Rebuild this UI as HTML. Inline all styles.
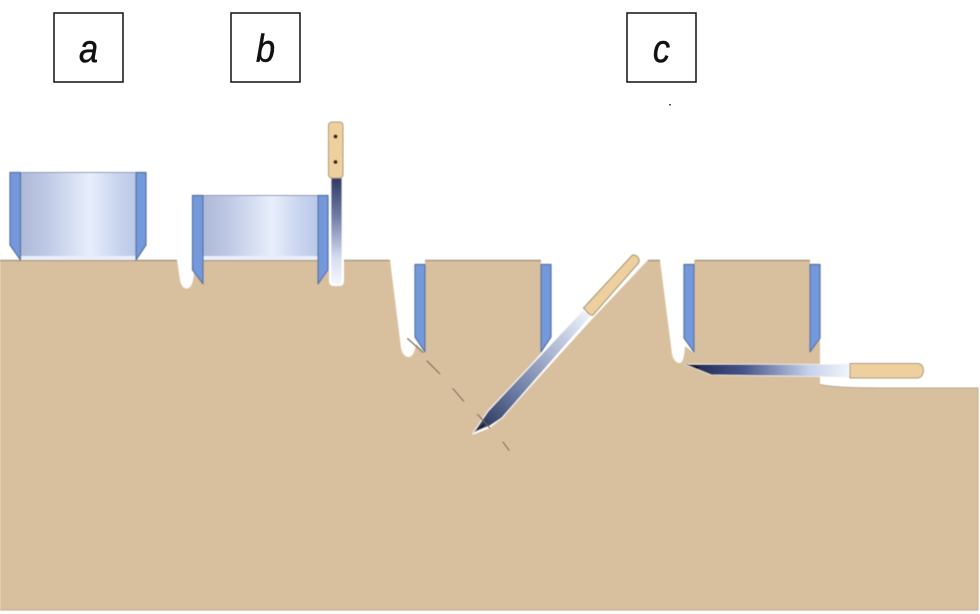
<!DOCTYPE html>
<html>
<head>
<meta charset="utf-8">
<style>
html,body{margin:0;padding:0;background:#fff;width:980px;height:614px;overflow:hidden}
svg{display:block}
</style>
</head>
<body>
<svg width="980" height="614" viewBox="0 0 980 614" xmlns="http://www.w3.org/2000/svg">
<defs>
<linearGradient id="ring" x1="0" x2="1" y1="0" y2="0">
<stop offset="0" stop-color="#aeb9d8"/><stop offset=".2" stop-color="#bcc7e3"/><stop offset=".6" stop-color="#e8eefc"/><stop offset=".85" stop-color="#c8d4ee"/><stop offset="1" stop-color="#bac8e7"/>
</linearGradient>
<linearGradient id="k1" gradientUnits="userSpaceOnUse" x1="336" y1="178" x2="336" y2="285">
<stop offset="0" stop-color="#2f3a66"/><stop offset=".35" stop-color="#6d7aa6"/><stop offset=".75" stop-color="#d5def0"/><stop offset="1" stop-color="#f6f8fd"/>
</linearGradient>
<linearGradient id="k2" gradientUnits="userSpaceOnUse" x1="478" y1="428" x2="588" y2="312">
<stop offset="0" stop-color="#2a3358"/><stop offset=".3" stop-color="#66769f"/><stop offset=".65" stop-color="#aab5cf"/><stop offset="1" stop-color="#eef2fb"/>
</linearGradient>
<linearGradient id="k3" gradientUnits="userSpaceOnUse" x1="686" y1="370" x2="850" y2="370">
<stop offset="0" stop-color="#1c2448"/><stop offset=".35" stop-color="#46548a"/><stop offset=".75" stop-color="#c5d2ea"/><stop offset="1" stop-color="#f2f5fc"/>
</linearGradient>
<filter id="b" x="-2%" y="-2%" width="104%" height="104%"><feGaussianBlur stdDeviation="0.45"/></filter>
</defs>
<rect width="980" height="614" fill="#fff"/>
<g filter="url(#b)">
<!-- soil -->
<path fill="#d8c09f" d="M0 260H177L180 280Q182 289 187 288.500Q193 288 194 273L203 285V260H318V285L329 270V281Q329 286 334 286H339Q344 286 344 281V260H390L401 348Q403 357 409 357Q414 357 416 344L425 353V260H541V353L478 427L472 435L490 428L502 418L594 317L648 260H660L672 354Q674 363 680 363Q684 363 685 346L694 353V260H810V353L820 338V384.500Q835 388 880 388H978V610H0Z"/>
<path fill="none" stroke="#a59680" stroke-width="1.500" d="M0 260.500H177M203 260.500H318M344 260.500H390M425 260.500H541M648 260.500H660M695 260.500H810"/>
<path fill="none" stroke="#b8a88e" stroke-width="1" d="M820 384.500Q835 388 880 388H978V610H0"/>
<!-- rings -->
<rect x="21" y="172" width="115" height="88" fill="url(#ring)"/>
<rect x="203" y="195" width="115" height="65" fill="url(#ring)"/>
<path fill="#e9eefa" d="M21 256H136V260H21Z"/>
<path fill="#e9eefa" d="M203 256H318V260H203Z"/>
<path fill="none" stroke="#8f97b0" stroke-width="1" d="M21 172.500H136M203 195.500H318"/>
<!-- blades -->
<g fill="#7398dc" stroke="#56719f" stroke-width="1.200" stroke-linejoin="round">
<path d="M10 172.500H20.500V260L10 245Z"/>
<path d="M146 172.500H136V260L146 245Z"/>
<path d="M192.500 195.500H203V284L192.500 270Z"/>
<path d="M328 195.500H318V284L328 270Z"/>
<path d="M415 264.500H425V352L415 337Z"/>
<path d="M551 264.500H541V352L551 337Z"/>
<path d="M684 264.500H694V352L684 338Z"/>
<path d="M820 264.500H810V352L820 338Z"/>
</g>
<!-- knife 1 -->
<path d="M331 178H342V282Q342 285 337 285Q331 285 331 282Z" fill="url(#k1)" stroke="#fff" stroke-width="0.600"/>
<rect x="328.500" y="122" width="14.500" height="56" rx="3.500" fill="#eed09f" stroke="#a8987c" stroke-width="1"/>
<circle cx="335.500" cy="136.500" r="2" fill="#2e2312"/>
<circle cx="335.500" cy="162" r="2" fill="#2e2312"/>
<!-- knife 2 -->
<path d="M583 310L591 316L502 418L490 426L473 433L488 411Z" fill="url(#k2)" stroke="#fff" stroke-width="1" stroke-linejoin="round"/>
<path d="M473 433L488 420L482 428Z" fill="#141a30"/>
<path d="M583.500 308L632 255.500Q635 254 638 257.500Q640 260 638.500 263L593 315Q591 316 588 313Z" fill="#eed09f" stroke="#9c8c6c" stroke-width="1"/>
<!-- dashed line -->
<path d="M407.300 338.300L423.300 352.700M426.700 360.700L440 374M452.700 388.300L464 401.700M477.300 414L490 428.300M502.700 441.700L509.300 450.700" fill="none" stroke="#6e6250" stroke-width="1.100"/>
<!-- knife 3 -->
<path d="M684 364L851 364.500V377L711 375Z" fill="url(#k3)" stroke="#f3f0ea" stroke-width="0.800"/>
<path d="M684 363.500L700 367L697 369Z" fill="#11162c"/>
<path d="M850 363.500H918Q923 364 923.500 370.500Q923 377 918 378H850Z" fill="#eed09f" stroke="#a8987c" stroke-width="1"/>
</g>
<!-- labels -->
<g fill="none" stroke="#111" stroke-width="1.500">
<rect x="54" y="13" width="69" height="69"/>
<rect x="231" y="13" width="69" height="69"/>
<rect x="627" y="13" width="69" height="69"/>
</g>
<g font-family="'Liberation Sans',sans-serif" font-style="italic" font-size="39" fill="#111" stroke="#111" stroke-width="0.500" text-anchor="middle">
<text transform="translate(88.500,62) scale(0.88,1)">a</text>
<text transform="translate(265.500,62) scale(0.88,1)">b</text>
<text transform="translate(661.500,62) scale(0.88,1)">c</text>
</g>
<rect x="669" y="104" width="2" height="1.500" fill="#555"/>
</svg>
</body>
</html>
